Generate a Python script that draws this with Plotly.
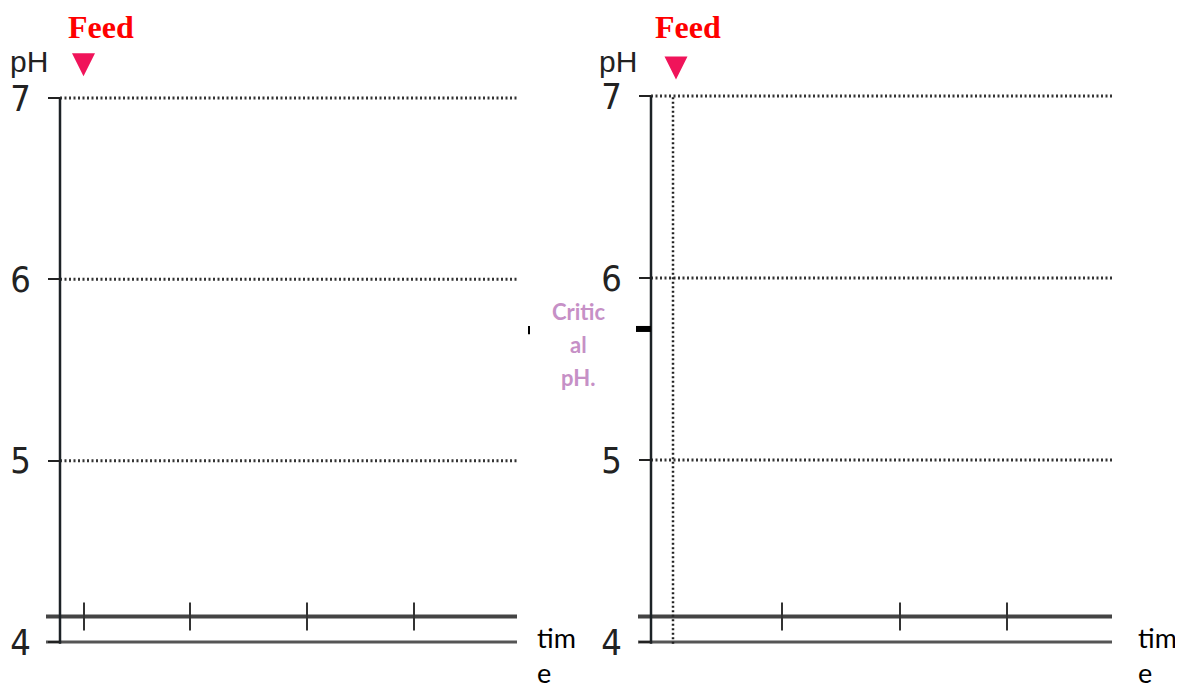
import plotly.graph_objects as go

# the page puts the figure 8px in from the top-left corner
OFF = 8
W, H = 1183 - OFF, 689 - OFF


def fx(px):
    return (px - OFF) / W


def fy(py):
    return 1 - (py - OFF) / H


# pH axis
ph_ticks = [4, 5, 6, 7]
grid_ph = [5, 6, 7]
base_ph = 3.99
band_ph = 4.14
top_ph = 7.0

# time axis (arbitrary units, origin at the pH axis)
left_extent = [-0.14, 4.57]
right_extent = [-0.13, 4.61]
left_time_ticks = [0.24, 1.30, 2.47, 3.54]
right_time_ticks = [1.31, 2.49, 3.56]

# feed marks
feed_time = [0.235, 0.25]
feed_ph = [7.12, 7.09]
feed_line_time = 0.22

# critical pH marker (right panel)
critical_ph = 5.72
critical_extent = [-0.15, 0.0]

AXIS_COL = "#1c2226"
DOT_COL = "#333333"
BAND_COL = "#444444"
NARROW = "Liberation Sans Narrow, Arial Narrow, DejaVu Sans Condensed, sans-serif"

fig = go.Figure()


def add_panel(xa, ya, extent, ticks, feed_x, feed_y):
    # dotted pH gridlines starting at the axis
    for p in grid_ph:
        fig.add_trace(go.Scatter(x=[0, extent[1]], y=[p, p], mode="lines", xaxis=xa, yaxis=ya,
                                 line=dict(color=DOT_COL, width=3, dash="2px,2.5px")))
    # two baselines at the bottom
    fig.add_trace(go.Scatter(x=extent, y=[band_ph, band_ph], mode="lines", xaxis=xa, yaxis=ya,
                             line=dict(color=BAND_COL, width=4)))
    fig.add_trace(go.Scatter(x=extent, y=[4.0, 4.0], mode="lines", xaxis=xa, yaxis=ya,
                             line=dict(color="#555555", width=3)))
    # time ticks on the upper baseline
    fig.add_trace(go.Scatter(x=ticks, y=[band_ph] * len(ticks), mode="markers", xaxis=xa, yaxis=ya,
                             marker=dict(symbol="line-ns", size=20, line=dict(color="#333333", width=2))))
    # pH axis line
    fig.add_trace(go.Scatter(x=[0, 0], y=[base_ph, top_ph], mode="lines", xaxis=xa, yaxis=ya,
                             line=dict(color=AXIS_COL, width=2.5)))
    # feed triangle
    fig.add_trace(go.Scatter(x=[feed_x], y=[feed_y], mode="markers", xaxis=xa, yaxis=ya, cliponaxis=False,
                             marker=dict(symbol="arrow-down", size=23, color="#f0145a")))


add_panel("x", "y", left_extent, left_time_ticks, feed_time[0], feed_ph[0])
add_panel("x2", "y2", right_extent, right_time_ticks, feed_time[1], feed_ph[1])

# dotted feed line in the right panel
fig.add_trace(go.Scatter(x=[feed_line_time, feed_line_time], y=[base_ph, top_ph], mode="lines",
                         xaxis="x2", yaxis="y2", line=dict(color="#222222", width=2.5, dash="2px,2.5px")))
# critical pH mark
fig.add_trace(go.Scatter(x=critical_extent, y=[critical_ph, critical_ph], mode="lines",
                         xaxis="x2", yaxis="y2", line=dict(color="black", width=6)))
fig.add_trace(go.Scatter(x=[4.69], y=[critical_ph], mode="markers", xaxis="x", yaxis="y",
                         marker=dict(symbol="line-ns", size=6, line=dict(color="black", width=2))))

yax = dict(anchor="free", tickvals=ph_ticks, ticks="outside", ticklen=12,
           tickwidth=2, tickcolor="#222222", showline=False, showgrid=False, zeroline=False,
           ticklabelstandoff=10, tickfont=dict(family=NARROW, size=36, color="#222222"))

fig.update_layout(
    width=W, height=H,
    margin=dict(l=0, r=0, t=0, b=0),
    paper_bgcolor="white", plot_bgcolor="white",
    showlegend=False,
    xaxis=dict(domain=[fx(30), fx(530)], range=[-0.3, 4.7], visible=False),
    yaxis=dict(domain=[fy(678.2), 1], range=[3.8, 7.0 + (98 - OFF) / 181.3], position=fx(60), **yax),
    xaxis2=dict(domain=[fx(621), fx(1121)], range=[-0.3, 4.7], visible=False),
    yaxis2=dict(domain=[fy(678.4), 1], range=[3.8, 7.0 + (96 - OFF) / 182], position=fx(651), **yax),
)

# Feed labels
for cx in [101, 688]:
    fig.add_annotation(x=fx(cx), y=1, xref="paper", yref="paper", text="<b>Feed</b>",
                       showarrow=False, xanchor="center", yanchor="top", borderpad=0,
                       font=dict(family="Liberation Serif, serif", size=32, color="#ff0000"))
# pH axis titles
for cx in [29, 618]:
    fig.add_annotation(x=fx(cx), y=fy(62), xref="paper", yref="paper", text="pH",
                       showarrow=False, xanchor="center", yanchor="middle", borderpad=0,
                       font=dict(family="Liberation Sans, Arial, sans-serif", size=30, color="#222222"))
# time labels
for lx in [536, 1137]:
    fig.add_annotation(x=fx(lx), y=fy(655), xref="paper", yref="paper", text="tim<br>e",
                       showarrow=False, xanchor="left", yanchor="middle", align="left", borderpad=0,
                       font=dict(family="Lato, Open Sans, sans-serif", size=27, color="black"))
# Critical pH label
for i, line in enumerate(["Critic", "al", "pH."]):
    fig.add_annotation(x=fx(578), y=fy(311 + 33 * i), xref="paper", yref="paper",
                       text="<b>" + line + "</b>", showarrow=False, xanchor="center", yanchor="middle",
                       font=dict(family="Lato, Open Sans, sans-serif", size=22, color="#c690c6"))

fig.write_html("out.html")
